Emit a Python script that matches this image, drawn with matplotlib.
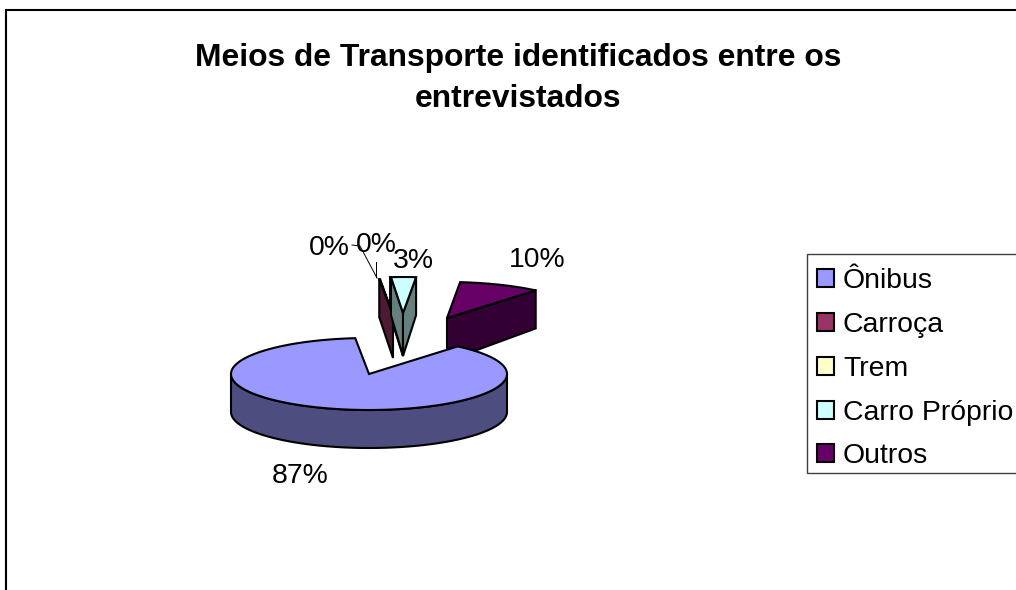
import numpy as np
import matplotlib
matplotlib.use("Agg")
import matplotlib.pyplot as plt
from matplotlib.patches import Polygon, Patch, Rectangle

plt.rcParams['font.family'] = ['Liberation Sans', 'DejaVu Sans']

# Data
categories = ["Ônibus", "Carroça", "Trem", "Carro Próprio", "Outros"]
values = [87.3, 0.1, 0.1, 2.9, 9.6]
title = "Meios de Transporte identificados entre os\nentrevistados"

# Styles
top_colors = ["#9999FF", "#993366", "#FFFFCC", "#CCFFFF", "#660066"]
side_colors = ["#4D4D80", "#4D1A33", "#808066", "#668080", "#330033"]
explode_px = [(0, 0), (24, -59), (34, -61), (34, -61), (78, -56)]
draw_order = [4, 2, 1, 3, 0]
label_pos = [(300, 476), (329, 248), (376, 245), (413, 261), (537, 260)]
START = 40.0
CX, CY, RX, RY, DEPTH = 369, 374, 138, 36, 38
SPIKE = 5
LW = 1.5

fig = plt.figure(figsize=(10.16, 5.90), dpi=100, facecolor="white")
ax = fig.add_axes([0, 0, 1, 1])
ax.set_xlim(0, 1016)
ax.set_ylim(590, 0)
ax.axis("off")

# Chart frame
ax.plot([4.5, 4.5], [10, 590], color="#999999", lw=0.75)
ax.plot([6, 6, 1016], [590, 10, 10], color="black", lw=1.5, solid_joinstyle="miter")


def rim(a_deg, ox, oy):
    a = np.radians(a_deg)
    return CX + ox + RX * np.sin(a), CY + oy - RY * np.cos(a)


def poly(pts, color, z):
    ax.add_patch(Polygon(pts, closed=True, facecolor=color, edgecolor="black",
                         lw=LW, joinstyle="miter", zorder=z))


total = sum(values)
bounds = START + np.concatenate([[0], np.cumsum(values)]) * 360 / total

z = 2
for i in draw_order:
    a0, a1 = bounds[i], bounds[i + 1]
    ox, oy = explode_px[i]
    apex = (CX + ox, CY + oy)
    # cut faces facing the viewer
    for a, visible in ((a0, np.sin(np.radians(a0)) < 0), (a1, np.sin(np.radians(a1)) > 0)):
        if visible:
            x, y = rim(a, ox, oy)
            poly([apex, (x, y), (x, y + DEPTH), (apex[0], apex[1] + DEPTH + SPIKE)], side_colors[i], z)
            z += 1
    # outer wall, front half only
    lo, hi = max(a0, 90), min(a1, 270)
    if hi > lo:
        t = np.linspace(lo, hi, 90)
        xs, ys = rim(t, ox, oy)
        pts = np.r_[np.c_[xs, ys], np.c_[xs, ys + DEPTH][::-1]]
        poly(pts, side_colors[i], z)
        z += 1
    # top face
    t = np.linspace(a0, a1, max(3, int((a1 - a0) * 2)))
    xs, ys = rim(t, ox, oy)
    poly(np.r_[[apex], np.c_[xs, ys]], top_colors[i], z)
    z += 1

# Percent labels
for v, (lx, ly) in zip(values, label_pos):
    ax.text(lx, ly, f"{v:.0f}%", fontsize=20.4, ha="center", va="center", color="black", zorder=30)

# Leader lines
ax.plot([352, 360, 377], [245, 246, 278], color="black", lw=0.7, zorder=29)
ax.plot([376, 376], [262, 277], color="black", lw=0.7, zorder=29)

# Title
ax.text(518, 78.5, title, fontsize=22.9, fontweight="bold", ha="center", va="center",
        linespacing=1.52, color="black")

# Legend
ax.add_patch(Rectangle((807, 253.5), 230, 219.5, facecolor="white", edgecolor="#404040",
                       lw=1.0, zorder=1))
handles = [Patch(facecolor=c, edgecolor="black", lw=1.5) for c in top_colors]
ax.legend(handles, categories, loc="upper left", bbox_to_anchor=(807, 258.5),
          bbox_transform=ax.transData, fontsize=20.4, frameon=False,
          borderaxespad=0, borderpad=0.35,
          handlelength=0.6, handleheight=0.6, handletextpad=0.32, labelspacing=0.627)

fig.savefig("out.png", dpi=100)
